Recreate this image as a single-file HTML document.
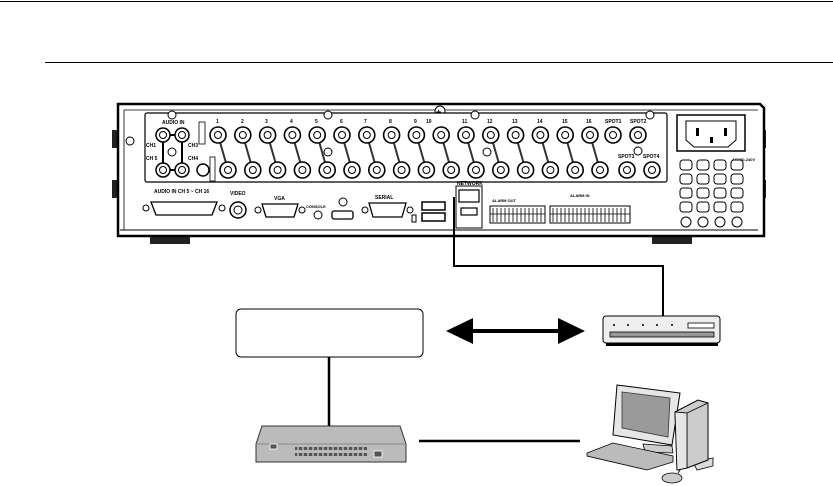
<!DOCTYPE html>
<html><head><meta charset="utf-8"><style>
html,body{margin:0;padding:0;background:#fff;}
svg{display:block;}
text{font-family:"Liberation Sans",sans-serif;font-weight:bold;}
</style></head><body>
<svg width="833" height="486" viewBox="0 0 833 486" xmlns="http://www.w3.org/2000/svg">
<rect x="0" y="1" width="833" height="1" fill="#000"/>
<rect x="45" y="62" width="788" height="1" fill="#000"/>

<!-- DVR body -->
<rect x="150" y="234" width="40" height="10" fill="#222"/>
<rect x="652" y="234" width="40" height="10" fill="#222"/>
<rect x="112" y="130" width="6" height="18" fill="#222"/>
<rect x="112" y="180" width="6" height="18" fill="#222"/>
<rect x="760" y="130" width="6" height="18" fill="#222"/>
<rect x="760" y="180" width="6" height="18" fill="#222"/>
<path d="M118,104 L760,104 L764,108 L764,236 L118,236 Z" fill="#fff" stroke="#000" stroke-width="2.5"/>
<line x1="124" y1="110" x2="758" y2="110" stroke="#000" stroke-width="0.8"/>
<line x1="124" y1="110" x2="124" y2="230" stroke="#000" stroke-width="0.8"/>
<line x1="120" y1="230" x2="758" y2="230" stroke="#000" stroke-width="1"/>
<circle cx="440" cy="111" r="5" fill="#fff" stroke="#000"/>
<text x="436" y="115" font-size="9">+</text>
<!-- inner panel -->
<rect x="145" y="113" width="522" height="69" rx="2" fill="#fff" stroke="#000" stroke-width="1.2"/>
<g fill="#fff" stroke="#000" stroke-width="1"><circle cx="172" cy="115" r="4"/><circle cx="328" cy="115" r="4"/><circle cx="475" cy="115" r="4"/><circle cx="650" cy="115" r="4"/><circle cx="130" cy="141" r="4"/><circle cx="487" cy="152" r="4"/><circle cx="638" cy="151" r="4"/><circle cx="328" cy="152" r="4"/></g>
<!-- power socket -->
<rect x="677" y="115" width="68" height="36" fill="#fff" stroke="#000" stroke-width="1.5"/>
<path d="M686,121 L736,121 L736,140 L728,147 L694,147 L686,140 Z" fill="#fff" stroke="#000"/>
<rect x="696" y="128" width="3" height="8" fill="#000"/><rect x="724" y="128" width="3" height="8" fill="#000"/><rect x="710" y="137" width="3" height="6" fill="#000"/>
<text x="732" y="161" font-size="4">AC100-240V</text>
<g fill="#fff" stroke="#000" stroke-width="1">
<rect x="680" y="160" width="12" height="10" rx="3"/><rect x="697" y="160" width="12" height="10" rx="3"/><rect x="714" y="160" width="12" height="10" rx="3"/><rect x="731" y="160" width="12" height="10" rx="3"/>
<rect x="680" y="174" width="12" height="10" rx="3"/><rect x="697" y="174" width="12" height="10" rx="3"/><rect x="714" y="174" width="12" height="10" rx="3"/><rect x="731" y="174" width="12" height="10" rx="3"/>
<rect x="680" y="188" width="12" height="10" rx="3"/><rect x="697" y="188" width="12" height="10" rx="3"/><rect x="714" y="188" width="12" height="10" rx="3"/><rect x="731" y="188" width="12" height="10" rx="3"/>
<rect x="680" y="202" width="12" height="10" rx="3"/><rect x="697" y="202" width="12" height="10" rx="3"/><rect x="714" y="202" width="12" height="10" rx="3"/><rect x="731" y="202" width="12" height="10" rx="3"/>
<circle cx="686" cy="222" r="5"/><circle cx="703" cy="222" r="5"/><circle cx="720" cy="222" r="5"/><circle cx="737" cy="222" r="5"/>
</g>
<!-- audio BNCs -->
<polyline points="163,135 182,135 182,170 163,170 163,135" fill="none" stroke="#000" stroke-width="2"/>
<g fill="#fff" stroke="#000" stroke-width="1.5">
<circle cx="163" cy="135" r="7"/><circle cx="182" cy="135" r="7"/><circle cx="163" cy="170" r="7"/><circle cx="182" cy="170" r="7"/><circle cx="203" cy="170" r="6"/>
<circle cx="172" cy="152" r="4" stroke-width="1"/>
</g>
<g fill="#fff" stroke="#000" stroke-width="1"><circle cx="163" cy="135" r="3.5"/><circle cx="182" cy="135" r="3.5"/><circle cx="163" cy="170" r="3.5"/><circle cx="182" cy="170" r="3.5"/></g>
<text x="162" y="124" font-size="5">AUDIO IN</text>
<text x="146" y="147" font-size="5">CH1</text><text x="146" y="160" font-size="5">CH 5</text>
<text x="188" y="147" font-size="5">CH3</text><text x="188" y="160" font-size="5">CH4</text>
<rect x="199" y="122" width="6" height="22" fill="#fff" stroke="#000" stroke-width="0.8"/>
<rect x="210" y="157" width="5" height="24" fill="#fff" stroke="#000" stroke-width="0.8"/>
<!-- video BNCs -->
<g stroke="#333" stroke-width="2">
<line x1="218" y1="135" x2="228" y2="170"/><line x1="242.8" y1="135" x2="252.8" y2="170"/><line x1="267.6" y1="135" x2="277.6" y2="170"/><line x1="292.4" y1="135" x2="302.4" y2="170"/>
<line x1="317.2" y1="135" x2="327.2" y2="170"/><line x1="342" y1="135" x2="352" y2="170"/><line x1="366.8" y1="135" x2="376.8" y2="170"/><line x1="391.6" y1="135" x2="401.6" y2="170"/>
<line x1="416.4" y1="135" x2="426.4" y2="170"/><line x1="441.2" y1="135" x2="451.2" y2="170"/><line x1="466" y1="135" x2="476" y2="170"/><line x1="490.8" y1="135" x2="500.8" y2="170"/>
<line x1="515.6" y1="135" x2="525.6" y2="170"/><line x1="540.4" y1="135" x2="550.4" y2="170"/><line x1="565.2" y1="135" x2="575.2" y2="170"/><line x1="590" y1="135" x2="600" y2="170"/>
</g>
<g fill="#fff" stroke="#000" stroke-width="1.6">
<circle cx="218" cy="135" r="8"/><circle cx="242.8" cy="135" r="8"/><circle cx="267.6" cy="135" r="8"/><circle cx="292.4" cy="135" r="8"/><circle cx="317.2" cy="135" r="8"/><circle cx="342" cy="135" r="8"/><circle cx="366.8" cy="135" r="8"/><circle cx="391.6" cy="135" r="8"/><circle cx="416.4" cy="135" r="8"/><circle cx="441.2" cy="135" r="8"/><circle cx="466" cy="135" r="8"/><circle cx="490.8" cy="135" r="8"/><circle cx="515.6" cy="135" r="8"/><circle cx="540.4" cy="135" r="8"/><circle cx="565.2" cy="135" r="8"/><circle cx="590" cy="135" r="8"/><circle cx="613" cy="135" r="8"/><circle cx="638" cy="135" r="8"/>
<circle cx="228" cy="170" r="8"/><circle cx="252.8" cy="170" r="8"/><circle cx="277.6" cy="170" r="8"/><circle cx="302.4" cy="170" r="8"/><circle cx="327.2" cy="170" r="8"/><circle cx="352" cy="170" r="8"/><circle cx="376.8" cy="170" r="8"/><circle cx="401.6" cy="170" r="8"/><circle cx="426.4" cy="170" r="8"/><circle cx="451.2" cy="170" r="8"/><circle cx="476" cy="170" r="8"/><circle cx="500.8" cy="170" r="8"/><circle cx="525.6" cy="170" r="8"/><circle cx="550.4" cy="170" r="8"/><circle cx="575.2" cy="170" r="8"/><circle cx="600" cy="170" r="8"/><circle cx="627" cy="170" r="8"/><circle cx="652" cy="170" r="8"/>
</g>
<g fill="#fff" stroke="#000" stroke-width="1">
<circle cx="218" cy="135" r="3.5"/><circle cx="242.8" cy="135" r="3.5"/><circle cx="267.6" cy="135" r="3.5"/><circle cx="292.4" cy="135" r="3.5"/><circle cx="317.2" cy="135" r="3.5"/><circle cx="342" cy="135" r="3.5"/><circle cx="366.8" cy="135" r="3.5"/><circle cx="391.6" cy="135" r="3.5"/><circle cx="416.4" cy="135" r="3.5"/><circle cx="441.2" cy="135" r="3.5"/><circle cx="466" cy="135" r="3.5"/><circle cx="490.8" cy="135" r="3.5"/><circle cx="515.6" cy="135" r="3.5"/><circle cx="540.4" cy="135" r="3.5"/><circle cx="565.2" cy="135" r="3.5"/><circle cx="590" cy="135" r="3.5"/><circle cx="613" cy="135" r="3.5"/><circle cx="638" cy="135" r="3.5"/>
<circle cx="228" cy="170" r="3.5"/><circle cx="252.8" cy="170" r="3.5"/><circle cx="277.6" cy="170" r="3.5"/><circle cx="302.4" cy="170" r="3.5"/><circle cx="327.2" cy="170" r="3.5"/><circle cx="352" cy="170" r="3.5"/><circle cx="376.8" cy="170" r="3.5"/><circle cx="401.6" cy="170" r="3.5"/><circle cx="426.4" cy="170" r="3.5"/><circle cx="451.2" cy="170" r="3.5"/><circle cx="476" cy="170" r="3.5"/><circle cx="500.8" cy="170" r="3.5"/><circle cx="525.6" cy="170" r="3.5"/><circle cx="550.4" cy="170" r="3.5"/><circle cx="575.2" cy="170" r="3.5"/><circle cx="600" cy="170" r="3.5"/><circle cx="627" cy="170" r="3.5"/><circle cx="652" cy="170" r="3.5"/>
</g>
<g font-size="5">
<text x="216" y="123">1</text><text x="241" y="123">2</text><text x="265" y="123">3</text><text x="290" y="123">4</text><text x="315" y="123">5</text><text x="340" y="123">6</text><text x="364" y="123">7</text><text x="389" y="123">8</text><text x="414" y="123">9</text><text x="426" y="123">10</text><text x="462" y="123">11</text><text x="487" y="123">12</text><text x="512" y="123">13</text><text x="537" y="123">14</text><text x="562" y="123">15</text><text x="586" y="123">16</text><text x="605" y="123">SPOT1</text><text x="630" y="123">SPOT2</text>
<text x="618" y="158">SPOT3</text><text x="643" y="158">SPOT4</text>
</g>
<!-- bottom connectors -->
<text x="154" y="193" font-size="5">AUDIO IN CH 5 ~ CH 16</text>
<path d="M151,202 L217,202 L212,215 L156,215 Z" fill="#fff" stroke="#000" stroke-width="1.3"/>
<circle cx="146" cy="208" r="3" fill="none" stroke="#000"/><circle cx="222" cy="208" r="3" fill="none" stroke="#000"/>
<circle cx="238" cy="210" r="8" fill="#fff" stroke="#000" stroke-width="1.5"/>
<circle cx="238" cy="210" r="4" fill="#fff" stroke="#000" stroke-width="1"/>
<text x="230" y="195" font-size="5">VIDEO</text>
<path d="M262,204 L298,204 L294,217 L266,217 Z" fill="#fff" stroke="#000" stroke-width="1.3"/>
<circle cx="258" cy="210" r="3" fill="none" stroke="#000"/><circle cx="302" cy="210" r="3" fill="none" stroke="#000"/>
<text x="274" y="200" font-size="5">VGA</text>
<circle cx="318" cy="215" r="4" fill="#fff" stroke="#000"/>
<text x="306" y="208" font-size="4">CONSOLE</text>
<circle cx="343" cy="202" r="4" fill="#fff" stroke="#000"/>
<rect x="332" y="211" width="21" height="8" rx="2" fill="#fff" stroke="#000" stroke-width="1.3"/>
<path d="M369,203 L406,203 L402,217 L373,217 Z" fill="#fff" stroke="#000" stroke-width="1.3"/>
<circle cx="365" cy="210" r="3" fill="none" stroke="#000"/><circle cx="410" cy="210" r="3" fill="none" stroke="#000"/>
<text x="375" y="199" font-size="5">SERIAL</text>
<rect x="412" y="215" width="4" height="7" fill="#fff" stroke="#000"/>
<rect x="422" y="202" width="23" height="8" fill="#fff" stroke="#000" stroke-width="1.5"/>
<rect x="422" y="213" width="23" height="8" fill="#fff" stroke="#000" stroke-width="1.5"/>
<rect x="456" y="186" width="26" height="42" fill="#fff" stroke="#000" stroke-width="1"/>
<rect x="459" y="190" width="20" height="12" fill="#fff" stroke="#000" stroke-width="1.2"/>
<rect x="461" y="208" width="16" height="7" fill="#fff" stroke="#000" stroke-width="1.2"/>
<text x="457" y="185" font-size="5">NETWORK</text>
<rect x="490" y="206" width="55" height="17" fill="#fff" stroke="#000"/>
<rect x="550" y="206" width="80" height="17" fill="#fff" stroke="#000"/>
<g stroke="#000" stroke-width="0.8">
<path d="M493,208 V222 M497,208 V222 M501,208 V222 M505,208 V222 M509,208 V222 M513,208 V222 M517,208 V222 M521,208 V222 M525,208 V222 M529,208 V222 M533,208 V222 M537,208 V222 M541,208 V222"/>
<path d="M553,208 V222 M557,208 V222 M561,208 V222 M565,208 V222 M569,208 V222 M573,208 V222 M577,208 V222 M581,208 V222 M585,208 V222 M589,208 V222 M593,208 V222 M597,208 V222 M601,208 V222 M605,208 V222 M609,208 V222 M613,208 V222 M617,208 V222 M621,208 V222 M625,208 V222"/>
<line x1="490" y1="214" x2="545" y2="214"/><line x1="550" y1="214" x2="630" y2="214"/>
</g>
<text x="492" y="202" font-size="4">ALARM OUT</text>
<text x="570" y="197" font-size="4">ALARM IN</text>

<!-- network cable -->
<polyline points="454,197 454,266 663,266 663,316" fill="none" stroke="#000" stroke-width="2"/>

<!-- box -->
<rect x="236" y="309" width="187" height="48" rx="5" fill="#fff" stroke="#000" stroke-width="1"/>
<line x1="329" y1="357" x2="329" y2="426" stroke="#000" stroke-width="2.5"/>

<!-- arrow -->
<line x1="462" y1="331" x2="570" y2="331" stroke="#000" stroke-width="4"/>
<polygon points="446,331 473,318 473,344" fill="#000"/>
<polygon points="585,331 558,318 558,344" fill="#000"/>

<!-- router -->
<rect x="606" y="340" width="112" height="6" fill="#000"/>
<rect x="603" y="316" width="117" height="27" rx="3" fill="#eee" stroke="#000" stroke-width="1"/>
<g fill="#000"><circle cx="614" cy="325" r="1"/><circle cx="628" cy="325" r="1"/><circle cx="643" cy="325" r="1"/><circle cx="657" cy="325" r="1"/><circle cx="672" cy="325" r="1"/></g>
<rect x="688" y="323" width="26" height="5" fill="#fff" stroke="#000" stroke-width="0.8"/>
<rect x="610" y="332" width="104" height="5" fill="#999" stroke="#000" stroke-width="0.8"/>

<!-- switch -->
<path d="M262,426 L400,426 L406,444 L406,462 L256,462 L256,444 Z" fill="#bbb" stroke="#333" stroke-width="1"/>
<line x1="256" y1="444" x2="406" y2="444" stroke="#888"/>
<rect x="270" y="444" width="7" height="5" fill="#555" stroke="#fff" stroke-width="0.8"/>
<rect x="374" y="451" width="8" height="6" fill="#555" stroke="#fff" stroke-width="0.8"/>
<g fill="#555"><rect x="295" y="447" width="72" height="3"/><rect x="295" y="453" width="72" height="3"/></g>
<g stroke="#bbb" stroke-width="1.5"><path d="M298,446 V457 M303,446 V457 M308,446 V457 M313,446 V457 M318,446 V457 M323,446 V457 M328,446 V457 M333,446 V457 M338,446 V457 M343,446 V457 M348,446 V457 M353,446 V457 M358,446 V457 M363,446 V457"/></g>
<line x1="419" y1="441" x2="580" y2="441" stroke="#000" stroke-width="2.5"/>

<!-- computer -->
<path d="M643,444 L672,446 L673,453 L645,452 Z" fill="#ccc" stroke="#000" stroke-width="0.8"/>
<path d="M617,385 L680,393 L672,445 L613,435 Z" fill="#e6e6e6" stroke="#000" stroke-width="1"/>
<path d="M622,392 L670,398 L668,437 L622,428 Z" fill="#9a9a9a" stroke="#333" stroke-width="0.8"/>
<path d="M613,443 L673,456 L673,462 L647,470 L587,456 L587,453 Z" fill="#bbb" stroke="#000" stroke-width="0.8"/>
<path d="M693,462 L713,458 L713,466 L697,470 Z" fill="#ddd" stroke="#000" stroke-width="0.8"/>
<path d="M675,412 L698,400 L708,403 L708,460 L687,468 L677,470 Z" fill="#ccc" stroke="#000" stroke-width="1"/>
<path d="M675,412 L687,413 L708,403 M687,413 L687,468" fill="none" stroke="#000" stroke-width="0.8"/>
<path d="M675,412 L687,413 L687,468 L677,470 Z" fill="#e6e6e6" stroke="#000" stroke-width="0.8"/>
<line x1="680" y1="470" x2="678" y2="473" stroke="#000"/>
<ellipse cx="672" cy="478" rx="10" ry="5" fill="#ccc" stroke="#000" stroke-width="0.8"/>
</svg>
</body></html>
